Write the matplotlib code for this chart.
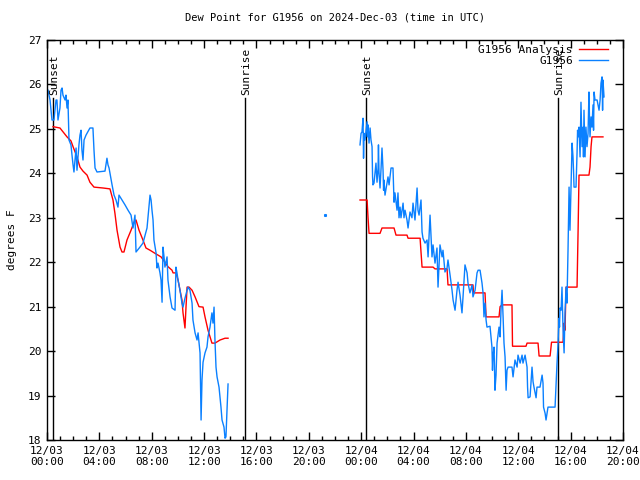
import matplotlib
matplotlib.use("Agg")
import matplotlib.pyplot as plt
from matplotlib.ticker import MultipleLocator

# hours since 12/03 00:00 UTC, dew point in F
obs1_t = [0.08, 0.23, 0.38, 0.53, 0.69, 0.76, 0.84, 0.99, 1.07, 1.15, 1.22, 1.38, 1.45, 1.53, 1.60,
          1.68, 1.83, 1.91, 1.99, 2.06, 2.14, 2.22, 2.29, 2.44, 2.52, 2.60, 2.67, 2.75, 2.83, 2.98,
          3.28, 3.51, 3.59, 3.67, 3.82, 4.43, 4.58, 4.66, 4.74, 4.97, 5.12, 5.27, 5.42, 5.50, 5.73,
          5.96, 6.19, 6.42, 6.57, 6.72, 6.80, 7.10, 7.33, 7.64, 7.87, 7.95, 8.02, 8.10, 8.17, 8.33,
          8.40, 8.48, 8.63, 8.71, 8.79, 8.86, 8.94, 9.01, 9.17, 9.24, 9.40, 9.55, 9.78, 9.85, 9.93,
          10.01, 10.16, 10.31, 10.39, 10.54, 10.70, 10.77, 10.92, 11.08, 11.15, 11.31, 11.46, 11.54,
          11.69, 11.77, 11.84, 11.92, 12.07, 12.22, 12.30, 12.45, 12.60, 12.68, 12.76, 12.83, 12.91,
          12.99, 13.14, 13.29, 13.37, 13.52, 13.60, 13.67, 13.75, 13.83]
obs1_v = [25.87, 25.65, 25.20, 25.20, 25.65, 25.65, 25.20, 25.47, 25.87, 25.92, 25.76, 25.65, 25.76,
          25.47, 25.65, 24.75, 24.64, 24.41, 24.19, 24.03, 24.30, 24.57, 24.07, 24.64, 24.86, 24.97,
          24.52, 24.30, 24.75, 24.86, 25.02, 25.02, 24.52, 24.12, 24.03, 24.05, 24.34, 24.19, 24.12,
          23.74, 23.51, 23.40, 23.24, 23.51, 23.40, 23.29, 23.17, 23.06, 22.77, 23.06, 22.23, 22.34,
          22.43, 22.77, 23.51, 23.40, 23.17, 22.95, 22.50, 22.21, 21.87, 21.98, 21.76, 21.60, 21.10,
          22.34, 22.12, 21.89, 22.12, 21.60, 21.22, 20.97, 20.92, 21.89, 21.76, 21.60, 21.37, 21.08,
          20.99, 21.19, 21.37, 21.44, 21.37, 21.08, 20.70, 20.41, 20.25, 20.41, 19.96, 18.45, 19.35,
          19.75, 19.96, 20.09, 20.32, 20.54, 20.86, 20.63, 20.99, 20.25, 19.64, 19.42, 19.19, 18.74,
          18.45, 18.29, 18.04, 18.07, 18.67, 19.26]

obs2_t = [23.91, 23.99, 24.06, 24.14, 24.18, 24.22, 24.29, 24.45, 24.48, 24.52, 24.60, 24.68, 24.75,
          24.83, 24.87, 24.90, 24.98, 25.13, 25.21, 25.29, 25.32, 25.36, 25.44, 25.52, 25.59, 25.67,
          25.71, 25.74, 25.82, 25.97, 26.05, 26.13, 26.28, 26.43, 26.51, 26.58, 26.74, 26.81, 26.89,
          26.97, 27.04, 27.20, 27.27, 27.35, 27.50, 27.58, 27.73, 27.88, 27.96, 28.11, 28.27, 28.34,
          28.42, 28.57, 28.65, 28.72, 28.88, 29.03, 29.11, 29.26, 29.34, 29.41, 29.49, 29.64, 29.79,
          29.87, 30.02, 30.18, 30.25, 30.40, 30.56, 30.63, 30.79, 30.94, 31.02, 31.17, 31.32, 31.40,
          31.55, 31.70, 31.78, 31.93, 32.09, 32.16, 32.31, 32.47, 32.54, 32.70, 32.85, 32.93, 33.08,
          33.23, 33.31, 33.38, 33.46, 33.54, 33.61, 33.84, 33.99, 34.03, 34.07, 34.15, 34.22, 34.30,
          34.38, 34.53, 34.61, 34.68, 34.76, 34.84, 34.91, 34.99, 35.07, 35.14, 35.22, 35.52, 35.60,
          35.75, 35.91, 35.98, 36.14, 36.29, 36.36, 36.52, 36.67, 36.71, 36.75, 36.90, 37.05, 37.13,
          37.20, 37.36, 37.43, 37.66, 37.82, 37.89, 37.93, 38.05, 38.12, 38.20, 38.27, 38.81, 38.96,
          39.04, 39.11, 39.15, 39.19, 39.27, 39.34, 39.42, 39.50, 39.57, 39.65, 39.72, 39.80, 39.88,
          39.95, 40.03, 40.11, 40.18, 40.22, 40.26, 40.41, 40.49, 40.53, 40.57, 40.64, 40.72, 40.79,
          40.87, 40.95, 40.98, 41.02, 41.10, 41.17, 41.25, 41.33, 41.40, 41.44, 41.48, 41.56, 41.63,
          41.71, 41.75, 41.79, 41.86, 42.02, 42.09, 42.17, 42.25, 42.32, 42.40, 42.44, 42.47, 42.55]
obs2_v = [24.64, 24.90, 24.93, 25.24, 24.34, 24.90, 24.75, 25.16, 24.82, 25.09, 24.68, 25.02, 24.75,
          24.60, 23.92, 23.74, 23.78, 24.23, 23.80, 24.12, 24.64, 24.03, 23.67, 24.12, 24.57, 24.07,
          23.62, 23.85, 23.51, 23.78, 23.92, 23.74, 24.12, 24.12, 23.35, 23.56, 23.17, 23.56, 23.00,
          23.24, 23.00, 23.33, 23.00, 23.17, 22.95, 22.77, 23.13, 23.00, 23.33, 22.95, 23.67, 23.17,
          23.06, 23.40, 22.68, 22.54, 22.43, 22.50, 22.12, 23.06, 22.57, 22.12, 22.39, 21.98, 22.32,
          21.44, 22.39, 22.12, 22.27, 21.78, 21.87, 22.05, 21.71, 21.37, 21.15, 20.92, 21.37, 21.55,
          21.26, 20.86, 21.22, 21.94, 21.76, 21.53, 21.31, 21.49, 21.22, 21.37, 21.76, 21.82, 21.82,
          21.53, 21.31, 20.77, 21.08, 20.70, 20.54, 20.56, 20.09, 19.57, 19.87, 20.09, 19.12, 19.46,
          20.18, 20.54, 20.32, 20.92, 21.37, 20.77, 20.18, 19.87, 19.12, 19.57, 19.64, 19.64, 19.42,
          19.80, 19.64, 19.91, 19.73, 19.91, 19.73, 19.91, 19.64, 19.19, 18.95, 18.97, 19.64, 19.31,
          19.19, 18.95, 19.19, 19.19, 19.46, 19.28, 18.74, 18.60, 18.45, 18.60, 18.74, 18.74, 19.73,
          20.18, 20.74, 20.54, 20.97, 20.92, 21.44, 20.47, 19.96, 20.86, 21.44, 21.08, 22.27, 23.69,
          22.72, 23.69, 24.68, 24.37, 24.07, 23.69, 23.69, 24.46, 24.97, 24.82, 25.04, 24.37, 25.60,
          24.60, 25.04, 24.37, 25.42, 24.37, 25.04, 24.60, 24.90, 25.83, 25.24, 24.82, 25.27, 25.04,
          25.54, 24.97, 25.83, 25.65, 25.65, 25.54, 25.42, 25.65, 26.03, 26.17, 25.42, 26.10, 25.72]

ana1_t = [0.46, 0.99, 1.53, 1.83, 1.99, 2.29, 2.52, 2.75, 3.06, 3.28, 3.59, 4.28, 4.81, 5.04, 5.19,
          5.35, 5.58, 5.73, 5.88, 6.11, 6.42, 6.65, 6.80, 7.03, 7.33, 7.56, 7.87, 8.25, 8.71, 9.01,
          9.24, 9.55, 9.63, 9.85, 10.01, 10.16, 10.31, 10.39, 10.54, 10.62, 10.70, 10.85, 11.08,
          11.31, 11.61, 11.92, 12.07, 12.30, 12.60, 12.83, 13.22, 13.60, 13.83]
ana1_v = [25.05, 25.02, 24.82, 24.73, 24.60, 24.37, 24.14, 24.05, 23.96, 23.80, 23.69, 23.67, 23.65,
          23.40, 23.10, 22.72, 22.34, 22.23, 22.23, 22.50, 22.72, 22.90, 22.95, 22.72, 22.50, 22.32,
          22.27, 22.20, 22.12, 22.00, 21.90, 21.82, 21.76, 21.76, 21.60, 21.37, 21.15, 20.86, 20.52,
          21.00, 21.44, 21.44, 21.37, 21.22, 21.00, 20.99, 20.77, 20.47, 20.18, 20.18, 20.25, 20.29,
          20.29]

ana2_t = [23.91, 24.45, 24.52, 24.60, 25.44, 25.59, 26.51, 26.66, 27.50, 27.58, 28.50, 28.57, 28.65,
          29.49, 29.64, 30.56, 30.63, 32.54, 32.58, 33.46, 33.54, 34.53, 34.61, 34.76, 35.52, 35.56,
          36.59, 36.67, 37.51, 37.59, 38.43, 38.54, 39.42, 39.50, 39.57, 39.65, 40.49, 40.57, 40.64,
          41.40, 41.48, 41.56, 41.63, 42.47]
ana2_v = [23.40, 23.40, 23.02, 22.65, 22.65, 22.77, 22.77, 22.61, 22.61, 22.54, 22.54, 22.23, 21.89,
          21.89, 21.85, 21.85, 21.49, 21.49, 21.31, 21.31, 20.77, 20.77, 21.00, 21.04, 21.04, 20.11,
          20.11, 20.18, 20.18, 19.89, 19.89, 20.20, 20.20, 20.63, 20.47, 21.44, 21.44, 22.72, 23.96,
          23.96, 24.14, 24.60, 24.82, 24.82]

# lone reading between the two runs
odd_t = [21.24]
odd_v = [23.06]

sun_t = [0.46, 15.13, 24.37, 39.04]
sun_lbl = ["Sunset", "Sunrise", "Sunset", "Sunrise"]

xtick_pos = [0, 4, 8, 12, 16, 20, 24, 28, 32, 36, 40, 44]
xtick_lbl = ["12/03\n00:00", "12/03\n04:00", "12/03\n08:00", "12/03\n12:00", "12/03\n16:00",
             "12/03\n20:00", "12/04\n00:00", "12/04\n04:00", "12/04\n08:00", "12/04\n12:00",
             "12/04\n16:00", "12/04\n20:00"]

RED = "#ff0000"
BLUE = "#0a80ff"
mono = "DejaVu Sans Mono"

fig = plt.figure(figsize=(6.4, 4.8), dpi=100)
ax = fig.add_axes([47/640, 40/480, 576/640, 400/480])

# sunrise / sunset markers
for t, s in zip(sun_t, sun_lbl):
    ax.plot([t, t], [18, 25.7], color="black", lw=1)
    ax.text(t + 0.1, 25.76, s, rotation=90, ha="center", va="bottom", fontsize=8, family=mono)

ax.plot(ana1_t, ana1_v, color=RED, lw=1, label="G1956 Analysis")
ax.plot(ana2_t, ana2_v, color=RED, lw=1)
ax.plot(obs1_t, obs1_v, color=BLUE, lw=1, label="G1956")
ax.plot(obs2_t, obs2_v, color=BLUE, lw=1)
ax.plot(odd_t, odd_v, "s", color=BLUE, ms=1.2)

ax.set_xlim(0, 44)
ax.set_ylim(18, 27)
ax.set_xticks(xtick_pos)
ax.set_xticklabels(xtick_lbl, family=mono, fontsize=8)
ax.xaxis.set_minor_locator(MultipleLocator(1))
ax.yaxis.set_major_locator(MultipleLocator(1))
for lab in ax.get_yticklabels():
    lab.set_family(mono)
    lab.set_fontsize(8)
ax.tick_params(which="both", direction="in", top=True, right=True, width=1)
ax.tick_params(which="major", length=6, pad=4)
ax.tick_params(which="minor", length=3)
for sp in ax.spines.values():
    sp.set_linewidth(1)

ax.set_ylabel("degrees F", family=mono, fontsize=8, labelpad=8)
ax.set_title("Dew Point for G1956 on 2024-Dec-03 (time in UTC)", family=mono, fontsize=7.5, pad=14)

# legend sits over the last sunrise label, same as the original
leg = ax.legend(loc="upper right", bbox_to_anchor=(1 - 8/576, 1.005), frameon=False, markerfirst=False,
                prop={"family": mono, "size": 8}, handlelength=2.6, handletextpad=0.6,
                labelspacing=0.1, borderaxespad=0.2)

fig.savefig("out.png", dpi=100)
